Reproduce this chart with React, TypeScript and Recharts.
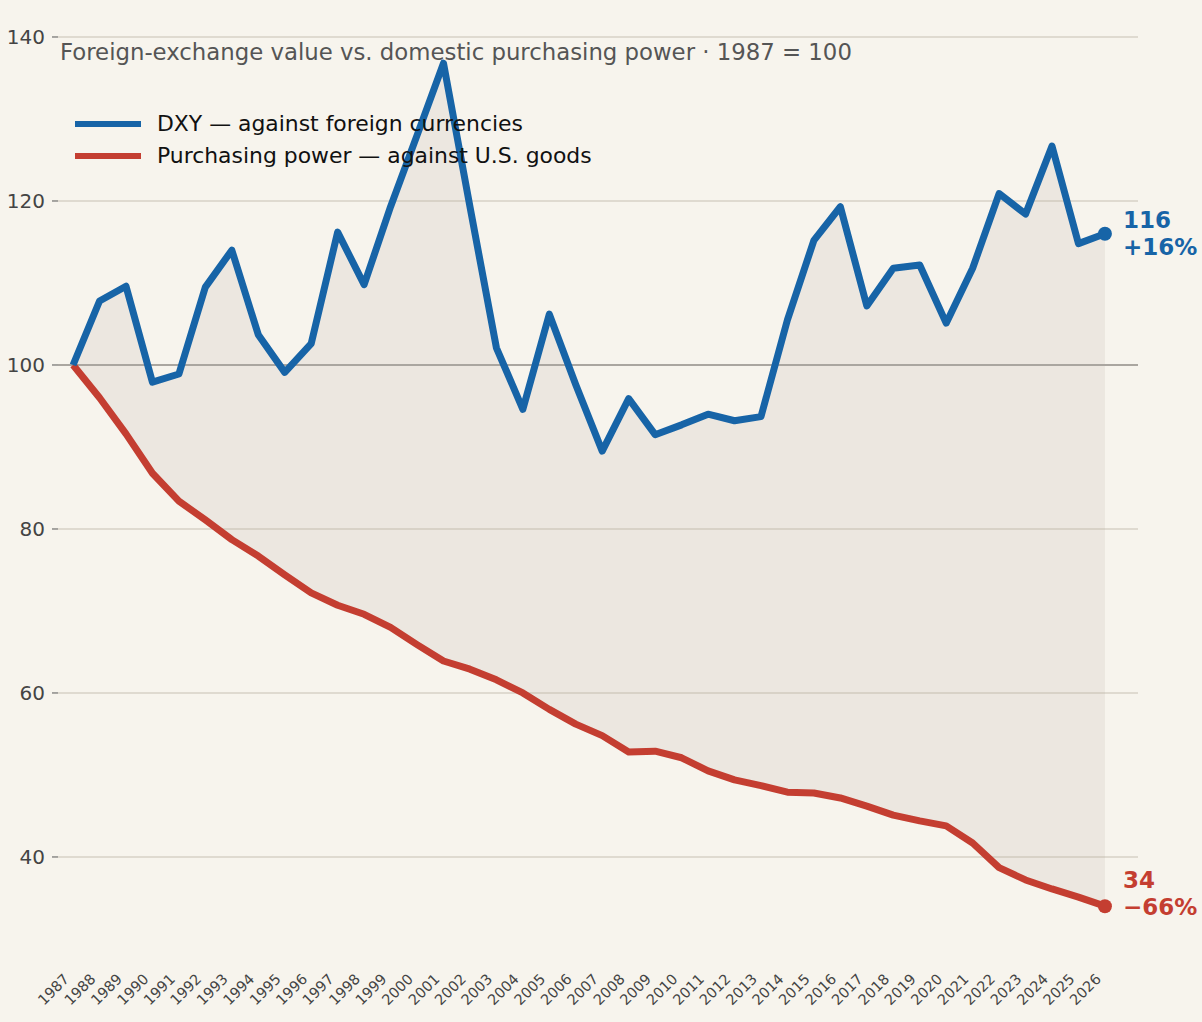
import { Area, CartesianGrid, ComposedChart, Line, ReferenceLine, XAxis, YAxis } from 'recharts'

const years = [1987, 1988, 1989, 1990, 1991, 1992, 1993, 1994, 1995, 1996, 1997, 1998, 1999, 2000, 2001, 2002, 2003, 2004, 2005, 2006, 2007, 2008, 2009, 2010, 2011, 2012, 2013, 2014, 2015, 2016, 2017, 2018, 2019, 2020, 2021, 2022, 2023, 2024, 2025, 2026]
const dxy = [100, 107.8, 109.6, 97.9, 98.9, 109.5, 114.0, 103.7, 99.1, 102.6, 116.2, 109.8, 119.3, 128.0, 136.8, 119.3, 102.1, 94.6, 106.2, 97.6, 89.5, 95.9, 91.5, 92.7, 94.0, 93.2, 93.7, 105.5, 115.2, 119.3, 107.2, 111.8, 112.2, 105.1, 111.8, 120.9, 118.4, 126.7, 114.8, 116.0]
const purchasingPower = [100, 96.0, 91.6, 86.8, 83.4, 81.1, 78.7, 76.7, 74.4, 72.2, 70.7, 69.6, 68.0, 65.9, 63.9, 62.9, 61.6, 60.0, 58.0, 56.2, 54.8, 52.8, 52.9, 52.1, 50.5, 49.4, 48.7, 47.9, 47.8, 47.2, 46.2, 45.1, 44.4, 43.8, 41.7, 38.7, 37.2, 36.1, 35.1, 34.0]
const yTicks = [40, 60, 80, 100, 120, 140]

const BLUE = '#1764a7'
const RED = '#c43e31'
const FONT = 'DejaVu Sans'

const rows = years.map((year, i) => ({ year, dxy: dxy[i], pp: purchasingPower[i], band: [purchasingPower[i], dxy[i]] }))
const last = rows.length - 1

const pctLabel = (v: number) => {
  const p = Math.round(v - 100)
  return p >= 0 ? `+${p}%` : `\u2212${Math.abs(p)}%`
}

function endDot(color: string, dy1: number, dy2: number) {
  return (props: any) => {
    const { cx, cy, index, value } = props
    if (index !== last) return <g key={`d${index}`} />
    return <g key={`d${index}`}>
      <circle cx={cx} cy={cy} r={7} fill={color} />
      <text x={cx + 18} y={cy + dy1} fill={color} fontFamily={FONT} fontWeight="bold" fontSize={23} dominantBaseline="central">{Math.round(value)}</text>
      <text x={cx + 18} y={cy + dy2} fill={color} fontFamily={FONT} fontWeight="bold" fontSize={23} dominantBaseline="central">{pctLabel(value)}</text>
    </g>
  }
}

const YearTick = (props: any) => {
  const { x, y, payload } = props
  const ax = x - 3
  const ay = y + 24
  return <text x={ax} y={ay} transform={`rotate(-45, ${ax}, ${ay})`} textAnchor="end" fontFamily={FONT} fontSize={14.5} fill="#444">{payload.value}</text>
}

export default function App() {
  return <div style={{ position: 'absolute', left: 0, top: 0, width: 1202, height: 1022, background: '#f7f4ed', fontFamily: FONT }}>
    <ComposedChart width={1202} height={1022} data={rows} margin={{ top: 21, right: 64, left: 8, bottom: 4 }}>
      <CartesianGrid horizontal vertical={false} horizontalValues={yTicks} stroke="#dfdad0" strokeWidth={2} />
      <XAxis dataKey="year" type="number" domain={[1986.43, 2027.25]} ticks={years} interval={0} height={70} axisLine={false} tickLine={false} tick={<YearTick />} />
      <YAxis domain={[28.9, 141.95]} ticks={yTicks} width={50} axisLine={false} tickSize={6} tickMargin={7} tickLine={{ stroke: '#555' }} tick={{ fontSize: 20, fontFamily: FONT, fill: '#444' }} />
      <Area dataKey="band" stroke="none" fill="#b4ab9d" fillOpacity={0.16} isAnimationActive={false} />
      <ReferenceLine y={100} stroke="#aaa6a0" strokeWidth={2} />
      <Line dataKey="pp" stroke={RED} strokeWidth={7} strokeLinejoin="round" dot={endDot(RED, -26, 1)} activeDot={false} isAnimationActive={false} />
      <Line dataKey="dxy" stroke={BLUE} strokeWidth={7} strokeLinejoin="round" dot={endDot(BLUE, -14, 13)} activeDot={false} isAnimationActive={false} />
    </ComposedChart>
    <div style={{ position: 'absolute', left: 60, top: 39, fontSize: 22.8, color: '#555', whiteSpace: 'nowrap' }}>Foreign-exchange value vs. domestic purchasing power · 1987 = 100</div>
    <div style={{ position: 'absolute', left: 75, top: 108, fontSize: 21.9, color: '#111', lineHeight: '32px', whiteSpace: 'nowrap' }}>
      <div style={{ display: 'flex', alignItems: 'center' }}><span style={{ width: 66, height: 6, background: BLUE, display: 'inline-block', marginRight: 16 }} />DXY — against foreign currencies</div>
      <div style={{ display: 'flex', alignItems: 'center' }}><span style={{ width: 66, height: 6, background: RED, display: 'inline-block', marginRight: 16 }} />Purchasing power — against U.S. goods</div>
    </div>
  </div>
}
